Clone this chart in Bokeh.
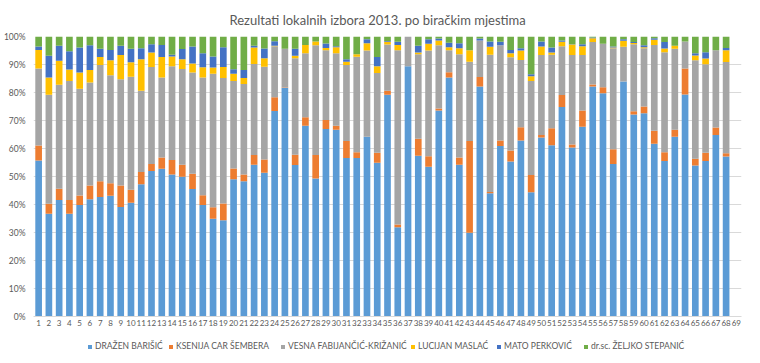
from bokeh.plotting import figure
from bokeh.layouts import column
from bokeh.models import (FactorRange, Range1d, Legend, LegendItem, FixedTicker,
                          PrintfTickFormatter, ColumnDataSource)
from bokeh.embed import file_html
from bokeh.resources import INLINE

stations = [str(i) for i in range(1, 70)]

barisic = [55.7, 36.7, 41.6, 36.7, 39.8, 41.9, 42.7, 43.1, 39.1, 40.6,
           47.2, 52.0, 52.8, 50.7, 49.9, 45.5, 39.8, 34.9, 34.4, 49.0,
           48.3, 54.2, 51.3, 73.4, 81.6, 54.1, 68.1, 49.3, 67.0, 66.7,
           56.6, 56.6, 64.2, 54.9, 79.2, 31.9, 89.4, 57.4, 53.5, 73.6,
           85.4, 54.2, 29.9, 82.1, 44.0, 60.9, 55.4, 62.9, 44.4, 63.9,
           61.2, 74.8, 60.4, 67.8, 82.1, 79.7, 54.5, 83.9, 72.1, 72.6,
           61.7, 55.5, 64.2, 79.3, 53.9, 55.5, 64.8, 57.1]
car_sembera = [5.4, 3.6, 4.0, 4.9, 3.4, 4.9, 5.6, 4.5, 7.7, 4.7,
               4.4, 2.5, 4.0, 5.2, 4.3, 5.5, 3.5, 4.1, 6.0, 3.9,
               2.4, 3.5, 4.8, 4.9, 0.2, 3.7, 3.1, 8.4, 3.2, 1.4,
               6.1, 2.1, 0.0, 3.6, 1.4, 1.0, 0.0, 6.1, 3.7, 0.7,
               1.8, 2.6, 32.8, 3.4, 0.5, 2.0, 3.9, 4.7, 6.1, 0.9,
               6.0, 4.3, 1.0, 5.8, 0.8, 2.2, 5.2, 0.0, 1.2, 2.4,
               4.6, 3.2, 2.5, 9.3, 2.4, 3.0, 2.7, 1.2]
fabijancic = [27.5, 38.9, 37.2, 42.5, 38.1, 36.8, 41.5, 38.6, 37.9, 40.3,
              29.0, 34.6, 28.6, 33.5, 34.2, 36.1, 42.1, 47.7, 44.8, 31.2,
              32.3, 32.5, 33.1, 18.2, 13.8, 34.4, 22.8, 39.2, 24.9, 25.9,
              27.1, 34.1, 30.8, 28.5, 16.5, 62.2, 10.6, 30.2, 37.8, 22.6,
              7.9, 36.9, 28.3, 13.1, 49.0, 34.0, 33.3, 24.0, 33.6, 28.6,
              26.3, 17.4, 32.0, 19.8, 15.1, 15.5, 36.1, 12.4, 23.9, 20.8,
              30.7, 35.7, 28.9, 9.6, 35.2, 31.6, 27.6, 32.6]
maslac = [6.6, 6.2, 8.5, 4.1, 5.8, 4.4, 2.9, 5.3, 8.7, 5.2,
          11.3, 5.2, 7.3, 3.5, 3.5, 3.3, 3.6, 2.2, 3.9, 2.6,
          2.2, 5.9, 3.0, 0.2, 0.0, 0.9, 3.0, 1.3, 0.8, 2.2,
          1.2, 0.9, 2.6, 2.4, 1.0, 1.9, 0.0, 0.6, 2.4, 1.7,
          1.1, 2.1, 4.1, 0.0, 2.8, 0.0, 1.4, 3.4, 1.7, 3.0,
          0.8, 1.6, 3.7, 3.1, 1.4, 0.0, 0.3, 2.2, 0.5, 0.4,
          1.8, 1.3, 1.1, 0.0, 1.7, 2.0, 0.0, 4.2]
perkovic = [1.2, 7.7, 5.4, 6.5, 9.0, 8.9, 2.9, 3.7, 3.3, 4.8,
            3.9, 2.9, 4.3, 0.6, 3.6, 6.0, 5.0, 4.0, 7.1, 1.6,
            2.8, 0.6, 3.5, 1.6, 0.0, 2.5, 0.0, 0.0, 1.6, 0.3,
            0.9, 0.0, 1.4, 3.3, 0.3, 1.1, 0.0, 2.4, 1.6, 0.7,
            1.6, 1.8, 0.0, 0.7, 1.9, 1.2, 1.2, 0.8, 0.7, 1.8,
            1.8, 0.5, 0.1, 0.7, 0.2, 0.0, 0.3, 0.5, 0.3, 0.7,
            0.6, 2.3, 0.0, 0.0, 0.8, 2.3, 0.0, 0.8]
stepanic = [3.6, 6.9, 3.3, 5.3, 3.9, 3.1, 4.4, 4.8, 3.3, 4.4,
            4.2, 2.8, 3.0, 6.5, 4.5, 3.6, 6.0, 7.1, 3.8, 11.7,
            12.0, 3.3, 4.3, 1.7, 4.4, 4.4, 3.0, 1.8, 2.5, 3.5,
            8.1, 6.3, 1.0, 7.3, 1.6, 1.9, 0.0, 3.3, 1.0, 0.7,
            2.2, 2.4, 4.9, 0.7, 1.8, 1.9, 4.8, 4.2, 13.5, 1.8,
            3.9, 1.4, 2.8, 2.8, 0.4, 2.6, 3.6, 1.0, 2.0, 3.1,
            0.6, 2.0, 3.3, 1.8, 6.0, 5.6, 4.9, 4.1]

names = ["DRAŽEN BARIŠIĆ", "KSENIJA CAR ŠEMBERA", "VESNA FABIJANČIĆ-KRIŽANIĆ",
         "LUCIJAN MASLAĆ", "MATO PERKOVIĆ", "dr.sc. ŽELJKO STEPANIĆ"]
colors = ["#5B9BD5", "#ED7D31", "#A5A5A5", "#FFC000", "#4472C4", "#70AD47"]
y_ticks = [0, 10, 20, 30, 40, 50, 60, 70, 80, 90, 100]

keys = ["barisic", "car_sembera", "fabijancic", "maslac", "perkovic", "stepanic"]
series = [barisic, car_sembera, fabijancic, maslac, perkovic, stepanic]
data = {"station": stations[:len(barisic)]}
for k, s in zip(keys, series):
    data[k] = s
source = ColumnDataSource(data)

FONT = "Lato"
TXT = "#595959"

# ---- main chart ----
p = figure(width=744, height=336, x_range=FactorRange(factors=stations, range_padding=0),
           y_range=(0, 100), output_backend="svg", toolbar_location=None,
           title="Rezultati lokalnih izbora 2013. po biračkim mjestima",
           min_border_left=27, min_border_right=3, min_border_top=36, min_border_bottom=20)
p.outline_line_color = None
p.background_fill_color = "white"
p.border_fill_color = "white"

p.title.align = "left"
p.title.offset = 196
p.title.standoff = 18
p.title.text_font = FONT
p.title.text_font_size = "13px"
p.title.text_font_style = "normal"
p.title.text_color = TXT

p.vbar_stack(keys, x="station", width=0.65, color=colors, line_color=None, source=source)

p.xgrid.grid_line_color = None
p.ygrid.grid_line_color = "#D9D9D9"
p.ygrid.ticker = FixedTicker(ticks=y_ticks)
p.yaxis.ticker = FixedTicker(ticks=y_ticks)
p.yaxis.formatter = PrintfTickFormatter(format="%d%%")
p.yaxis.axis_line_color = None
p.xaxis.axis_line_color = "#D9D9D9"
for ax in (p.xaxis, p.yaxis):
    ax.major_tick_line_color = None
    ax.minor_tick_line_color = None
    ax.major_tick_out = 0
    ax.major_tick_in = 0
    ax.minor_tick_out = 0
    ax.major_label_text_font = FONT
    ax.major_label_text_color = TXT
p.yaxis.major_label_standoff = 8
p.xaxis.major_label_standoff = 3
p.yaxis.major_label_text_font_size = "8.5px"
p.xaxis.major_label_text_font_size = "8px"

# ---- legend strip (same data, drawn outside the visible range) ----
q = figure(width=744, height=19, x_range=FactorRange(factors=stations, range_padding=0),
           y_range=Range1d(1000, 1001), output_backend="svg", toolbar_location=None,
           x_axis_location=None, y_axis_location=None, min_border=0)
q.outline_line_color = None
q.grid.visible = False
q.border_fill_color = "white"
rs = q.vbar_stack(keys, x="station", width=0.65, color=colors, line_color=None, source=source)

leg_x = [54, 135, 247, 377, 463, 550]
for name, r, lx in zip(names, rs, leg_x):
    lg = Legend(items=[LegendItem(label=name, renderers=[r])], location=(lx, 4),
                orientation="horizontal", padding=0, margin=0, border_line_color=None,
                background_fill_alpha=0, glyph_width=5, glyph_height=5, label_standoff=3,
                label_height=10, label_text_font=FONT, label_text_font_size="8.5px",
                label_text_color=TXT)
    q.add_layout(lg)

layout = column(p, q, spacing=0)
open("out.html", "w").write(file_html(layout, INLINE))
